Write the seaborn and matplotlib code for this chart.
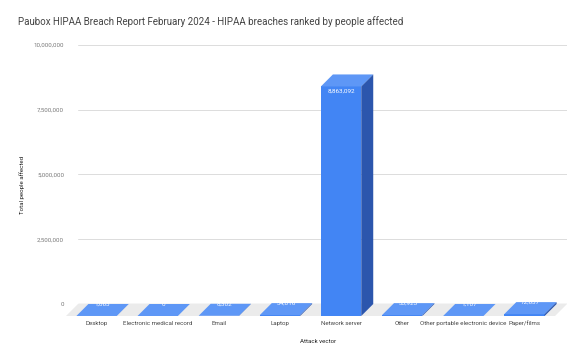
import matplotlib
matplotlib.use("Agg")
import matplotlib.pyplot as plt
import matplotlib.transforms as mt
from matplotlib.patches import Polygon
from matplotlib.ticker import FuncFormatter
import seaborn as sns
import pandas as pd

categories = ["Desktop", "Electronic medical record", "Email", "Laptop",
              "Network server", "Other", "Other portable electronic device", "Paper/films"]
people = [1063, 0, 8302, 34016, 8863092, 33923, 1107, 72637]
y_ticks = [0, 2500000, 5000000, 7500000, 10000000]

title = "Paubox HIPAA Breach Report February 2024 - HIPAA breaches ranked by people affected"

sns.set_theme(style="white")
plt.rcParams['font.family'] = ['Roboto', 'DejaVu Sans']

W, H = 585, 361
fig = plt.figure(figsize=(W / 100, H / 100), dpi=100)
L, R, T, B = 78, 567, 45, 304
ax = fig.add_axes([L / W, (H - B) / H, (R - L) / W, (B - T) / H])

df = pd.DataFrame({"vector": categories, "people": people})
sns.barplot(data=df, x="vector", y="people", color="#4285F4", saturation=1,
            width=0.66, ax=ax, zorder=3)
ax.set_xlim(-0.5, len(categories) - 0.5)
ax.set_ylim(0, 10000000)

DX, DY = -12, -12  # depth offset in pixels
off = mt.offset_copy(ax.transData, fig=fig, x=DX, y=DY, units='dots')

px_x = (len(categories)) / (R - L)
px_y = 10000000 / (B - T)
ddx, ddy = DX * px_x, DY * px_y

x_lo, x_hi = -0.5, len(categories) - 0.5
floor = Polygon([(x_lo, 0), (x_hi, 0), (x_hi + ddx, ddy), (x_lo + ddx, ddy)],
                closed=True, facecolor="#ebebeb", edgecolor="none", zorder=1, clip_on=False)
ax.add_patch(floor)

for p, v in zip(ax.patches[:len(categories)], people):
    p.set_transform(off)
    p.set_clip_on(False)
    p.set_edgecolor("none")
    x0, w, h = p.get_x(), p.get_width(), p.get_height()
    x1 = x0 + w
    top = Polygon([(x0 + ddx, h + ddy), (x1 + ddx, h + ddy), (x1, h), (x0, h)],
                  closed=True, facecolor="#5e97f6", edgecolor="none", zorder=3, clip_on=False)
    side = Polygon([(x1 + ddx, ddy), (x1 + ddx, h + ddy), (x1, h), (x1, 0)],
                   closed=True, facecolor="#2c56ad", edgecolor="none", zorder=3, clip_on=False)
    ax.add_patch(top)
    ax.add_patch(side)
    label = f"{v:,}"
    cx = x0 + w / 2
    if h > 1000000:
        ax.text(cx + ddx, h + ddy - 2 * px_y, label, ha="center", va="top",
                color="white", fontsize=4.6, zorder=5, clip_on=False)
    else:
        ax.text(cx + ddx / 2, h, label, ha="center", va="center",
                color="white", fontsize=4.6, zorder=5, clip_on=False)

ax.set_yticks(y_ticks)
ax.yaxis.set_major_formatter(FuncFormatter(lambda v, _: f"{int(v):,}"))
ax.yaxis.grid(True, color="#dcdcdc", linewidth=0.7, zorder=0)
ax.axhline(0, color="#555555", linewidth=0.8, zorder=2)
ax.tick_params(axis="y", length=0, pad=10, labelsize=4.4, labelcolor="#777777")
ax.tick_params(axis="x", length=0, pad=12, labelsize=4.4, labelcolor="#444444")
shift = mt.ScaledTranslation(DX / 100, 0, fig.dpi_scale_trans)
for lab in ax.get_xticklabels():
    lab.set_transform(lab.get_transform() + shift)

for s in ax.spines.values():
    s.set_visible(False)

ax.set_xlabel("Attack vector", fontsize=4.4, color="#222222")
ax.set_ylabel("Total people affected", fontsize=4.4, color="#222222")
ax.xaxis.set_label_coords((318 - L) / (R - L), -(339 - B) / (B - T))
ax.yaxis.set_label_coords((25 - L) / (R - L), (B - 185) / (B - T))

fig.text(18 / W, 1 - 22 / H, title, ha="left", va="center", fontsize=7, color="#444444")

fig.savefig("out.png", dpi=100, facecolor="white")
